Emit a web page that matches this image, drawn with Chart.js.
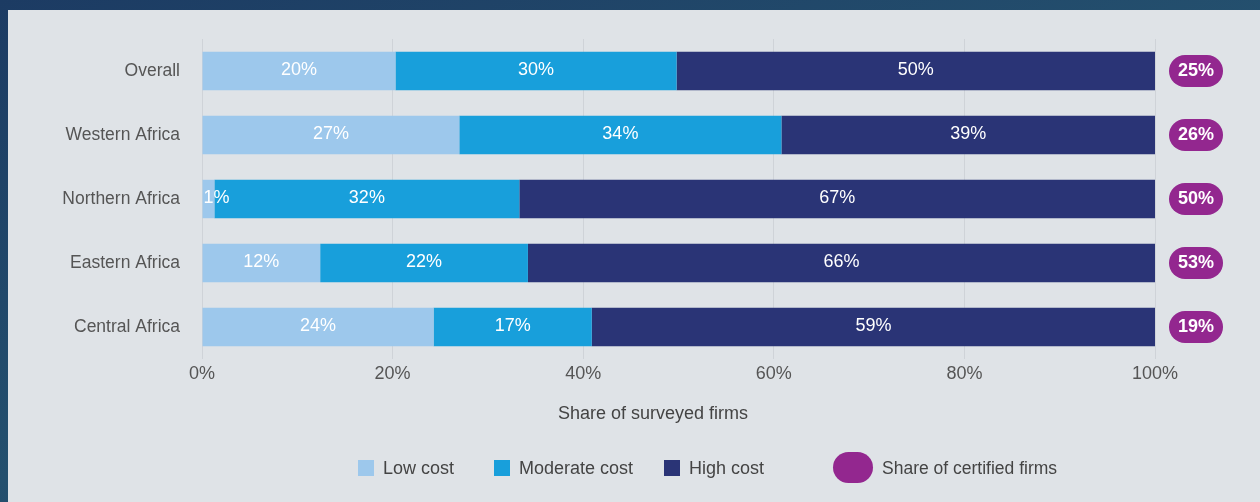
<!DOCTYPE html>
<html>
<head>
<meta charset="utf-8">
<script src="https://cdn.jsdelivr.net/npm/chart.js@4.4.1/dist/chart.umd.min.js"></script>
<style>
  html, body { margin: 0; padding: 0; }
  body {
    width: 1260px; height: 502px; overflow: hidden; position: relative;
    background: linear-gradient(160deg, #1c3b63 0%, #24506e 50%, #1d3a5f 100%);
    font-family: "Liberation Sans", Arial, sans-serif;
  }
  #panel {
    position: absolute; left: 8px; top: 10px; right: 0; bottom: 0;
    background: #dfe3e7;
  }
  #wrap { position: absolute; left: 0; top: 0; width: 1260px; height: 502px; }
  #xtitle { position: absolute; left: 453px; width: 400px; top: 403px; text-align: center; font-size: 18px; color: #444; }
  .leg { position: absolute; top: 459px; height: 18px; font-size: 18px; color: #444; line-height: 18px; white-space: nowrap; }
  .leg .box { position: absolute; left: 0; top: 1px; width: 16px; height: 16px; }
  .leg .pill { position: absolute; left: 0; top: -7px; width: 40px; height: 31px; border-radius: 16px; background: #93278f; }
</style>
</head>
<body>
<div id="panel"></div>
<div id="wrap"><canvas id="chart" width="1260" height="502"></canvas></div>
<div id="xtitle">Share of surveyed firms</div>
<div class="leg" style="left:358px"><span class="box" style="background:#9dc8ec"></span><span style="margin-left:25px">Low cost</span></div>
<div class="leg" style="left:494px"><span class="box" style="background:#189fdb"></span><span style="margin-left:25px">Moderate cost</span></div>
<div class="leg" style="left:664px"><span class="box" style="background:#2a3476"></span><span style="margin-left:25px">High cost</span></div>
<div class="leg" style="left:833px"><span class="pill"></span><span style="margin-left:49px;font-size:17.5px">Share of certified firms</span></div>
<script>
// Données
const regions = ['Overall', 'Western Africa', 'Northern Africa', 'Eastern Africa', 'Central Africa'];
const lowCost = [20.3, 27.0, 1.3, 12.4, 24.3];
const moderateCost = [29.5, 33.8, 32.0, 21.8, 16.6];
const highCost = [50.2, 39.2, 66.7, 65.8, 59.1];
const certifiedShare = [25, 26, 50, 53, 19];
const xTicks = [0, 20, 40, 60, 80, 100];

const FONT = '"Liberation Sans", Arial, sans-serif';

// Étiquettes blanches au centre des barres
const barLabels = {
    id: 'barLabels',
    afterDatasetsDraw(chart) {
        const ctx = chart.ctx;
        ctx.save();
        ctx.font = '18px ' + FONT;
        ctx.fillStyle = '#ffffff';
        ctx.textAlign = 'center';
        ctx.textBaseline = 'middle';
        chart.data.datasets.forEach((ds, di) => {
            chart.getDatasetMeta(di).data.forEach((bar, i) => {
                const txt = Math.round(ds.data[i]) + '%';
                const left = Math.min(bar.x, bar.base);
                const w = ctx.measureText(txt).width;
                let x = (bar.x + bar.base) / 2;
                if (x - w / 2 < left) x = left + w / 2 + 1;
                ctx.fillText(txt, x, bar.y - 1);
            });
        });
        ctx.restore();
    }
};

// Pastilles violettes à droite
const certifiedPills = {
    id: 'certifiedPills',
    afterDatasetsDraw(chart) {
        const ctx = chart.ctx;
        const yScale = chart.scales.y;
        const cx = chart.chartArea.right + 41;
        const w = 54, h = 32, r = 16;
        ctx.save();
        certifiedShare.forEach((v, i) => {
            const cy = yScale.getPixelForValue(i);
            ctx.fillStyle = '#93278f';
            ctx.beginPath();
            ctx.roundRect(cx - w / 2, cy - h / 2, w, h, r);
            ctx.fill();
            ctx.fillStyle = '#ffffff';
            ctx.font = 'bold 18px ' + FONT;
            ctx.textAlign = 'center';
            ctx.textBaseline = 'middle';
            ctx.fillText(v + '%', cx, cy);
        });
        ctx.restore();
    }
};

new Chart(document.getElementById('chart'), {
    type: 'bar',
    data: {
        labels: regions,
        datasets: [
            { label: 'Low cost', data: lowCost, backgroundColor: '#9dc8ec' },
            { label: 'Moderate cost', data: moderateCost, backgroundColor: '#189fdb' },
            { label: 'High cost', data: highCost, backgroundColor: '#2a3476' }
        ]
    },
    options: {
        indexAxis: 'y',
        responsive: false,
        animation: false,
        datasets: { bar: { categoryPercentage: 0.6, barPercentage: 1, borderWidth: 0 } },
        layout: { padding: { top: 39, right: 105, bottom: 74, left: 0 } },
        plugins: { legend: { display: false }, tooltip: { enabled: false } },
        scales: {
            x: {
                stacked: true,
                min: 0,
                max: 100,
                afterBuildTicks(scale) { scale.ticks = xTicks.map(v => ({ value: v })); },
                afterFit(scale) { scale.height = 69; },
                grid: { color: '#cfd3d8', drawTicks: false },
                border: { display: false },
                ticks: {
                    padding: 4,
                    color: '#555',
                    font: { family: FONT, size: 18 },
                    callback: v => v + '%'
                }
            },
            y: {
                stacked: true,
                afterFit(scale) { scale.width = 202; },
                grid: { display: false, drawTicks: false },
                border: { display: false },
                ticks: {
                    padding: 22,
                    color: '#555',
                    font: { family: FONT, size: 17.5 }
                }
            }
        }
    },
    plugins: [barLabels, certifiedPills]
});
</script>
</body>
</html>
